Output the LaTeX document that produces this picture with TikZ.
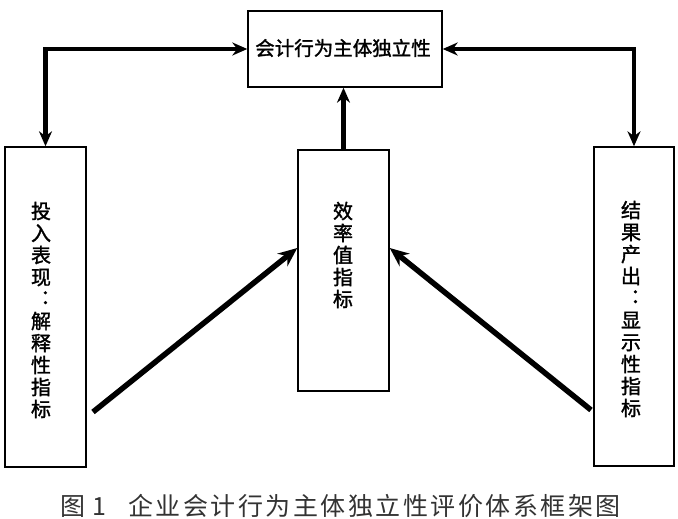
\documentclass[tikz,border=0pt]{standalone}
\usepackage{fontspec}
\newfontfamily\cjk{Noto Sans CJK SC}
\newfontfamily\cjkb[FakeBold=1.5]{Noto Sans CJK SC}
\newfontfamily\cjkcap[LetterSpace=10]{Noto Sans CJK SC}
\usetikzlibrary{arrows.meta,calc}
\tikzset{
  box/.style={draw=black,line width=1.4pt,fill=white,inner sep=0pt},
  vtext/.style={font=\cjkb\fontsize{20}{22}\selectfont,align=center,inner sep=0pt},
  link/.style={line width=4.2pt,{Stealth[length=15pt,width=13pt]}-{Stealth[length=15pt,width=13pt]}},
  uplink/.style={line width=4.2pt,-{Stealth[length=15pt,width=13pt]}},
  diag/.style={line width=5.5pt,-{Stealth[length=19pt,width=16pt]}}
}
\begin{document}
\begin{tikzpicture}[x=1pt,y=-1pt]
\useasboundingbox[fill=white] (0,0) rectangle (678,519);
% boxes
\node[box,minimum width=194pt,minimum height=76pt] (top) at (345,49) {};
\node[box,minimum width=81pt,minimum height=320pt] (left) at (45.5,307) {};
\node[box,minimum width=91pt,minimum height=241pt] (mid) at (343.5,270.5) {};
\node[box,minimum width=80pt,minimum height=319pt] (right) at (634,306.5) {};
% texts
\node[font=\cjkb\fontsize{19.5}{22}\selectfont,inner sep=0pt] (toptext) at (343,48) {会计行为主体独立性};
\node[vtext] (lefttext) at (41,310) {投\\入\\表\\现\\︓\\解\\释\\性\\指\\标};
\node[vtext] (midtext) at (343,255) {效\\率\\值\\指\\标};
\node[vtext] (righttext) at (631,309) {结\\果\\产\\出\\︓\\显\\示\\性\\指\\标};
% connectors
\draw[link] (top.west) -| (left.north);
\draw[link] (top.east) -| (right.north);
\draw[uplink] (mid.north) -- (mid.north |- top.south);
\coordinate (ls) at (93,412);
\coordinate (rs) at (591,410);
\draw[diag] (ls) -- ($(mid.west)+(0,-22.5)$);
\draw[diag] (rs) -- ($(mid.east)+(0,-22.5)$);
% caption
\node[anchor=west,font=\cjkcap\fontsize{25}{25}\selectfont,text=black!80,inner sep=0pt] (caption) at (60,506) {图\hspace{7pt}1\hspace{22pt}企业会计行为主体独立性评价体系框架图};
\end{tikzpicture}
\end{document}
